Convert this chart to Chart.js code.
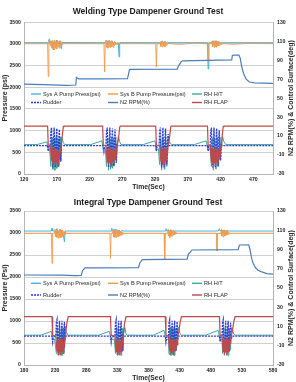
<!DOCTYPE html>
<html>
<head>
<meta charset="utf-8">
<script src="https://cdn.jsdelivr.net/npm/chart.js@4.4.0/dist/chart.umd.min.js"></script>
<style>
  body { margin: 0; background: #fff; }
  canvas { display: block; }
</style>
</head>
<body>
<canvas id="weld" width="296" height="191"></canvas>
<canvas id="integral" width="296" height="191"></canvas>
<script>
// legend labels (same order in both charts)
const seriesNames = ['Sys A Pump Press(psi)', 'Sys B Pump Pressure(psi)', 'RH H/T', 'Rudder', 'N2 RPM(%)', 'RH FLAP'];

// tick labels
const weldTimeTicks = [120, 170, 220, 270, 320, 370, 420, 470];
const integralTimeTicks = [180, 230, 280, 330, 380, 430, 480, 530, 580];
const angleTicks = [-30, -10, 10, 30, 50, 70, 90, 110, 130];

// ---- Welding type dampener: [time sec, value] ----
const weldSysA = [[120,3028],[157,3028],[158,3100],[159,3010],[161,3070],[163,2990],[165,2860],[166,3060],[168,2980],[170,3090],[172,2990],[174,3070],[176,2940],[177,2890],[178,3030],
  [244,3028],[246,3090],[248,2990],[250,3085],[252,3000],[254,3070],[256,2980],[258,3050],[261,3010],[264,3030],[265,2700],[266,3028],
  [329,3028],[331,3070],[333,2990],[335,3060],[337,3010],[339,3040],[341,3028],
  [400,3028],[401,2420],[402,3028],[407,3028],[409,3070],[411,2980],[413,3075],[415,2990],[417,3060],[419,3010],[421,3040],[423,3028],[500,3028]];

const weldSysB = [[120,3005],[156,3005],[157,2250],[158,3005],[159,3120],[160,2960],[161,3060],[162,2910],[163,3080],[164,2890],[165,3040],[166,2870],[167,3090],[168,2900],[169,3050],[170,2880],[171,3080],[172,2930],[173,3050],[174,2900],[175,3070],[176,2950],[177,3030],[178,2985],[179,3005],
  [242,3005],[243,2350],[244,3005],[245,3080],[246,2920],[247,3060],[248,2900],[249,3070],[250,2930],[251,3050],[252,2910],[253,3070],[254,2940],[255,3050],[256,2920],[257,3040],[258,2960],[259,3030],[260,2975],[261,3025],[262,2990],[263,3005],
  [321,3005],[322,2470],[323,3005],[327,3000],[328,3050],[329,2940],[330,3050],[331,2930],[332,3060],[333,2950],[334,3040],[335,2940],[336,3050],[337,2965],[338,3030],[339,2985],[340,3015],[341,3005],[360,2990],[380,3020],
  [400,3000],[401,2590],[402,3005],[406,3000],[407,3070],[408,2940],[409,3060],[410,2920],[411,3070],[412,2940],[413,3050],[414,2920],[415,3060],[416,2950],[417,3040],[418,2960],[419,3030],[420,2975],[421,3025],[422,2990],[423,3005],[440,2990],[460,3010],[500,3005]];

const weldHT = [[120,1],[140,1],[155,4],[157,-5],[159,-3],[161,-22],[162,5],[163,8],[164,-25],[165,-10],[166,6],[167,-26],[168,-8],[169,9],[170,-24],[171,-6],[172,7],[173,-22],[174,-4],[175,9],[176,-16],[177,2],[178,9],[180,3],[182,1],
  [222,1],[239,5],[241,-5],[244,-3],[246,-22],[247,6],[248,8],[249,-26],[250,-8],[251,7],[252,-25],[253,-6],[254,9],[255,-24],[256,-5],[257,8],[258,-21],[259,-2],[260,9],[261,-18],[262,0],[264,10],[266,4],[268,1],
  [302,1],[320,5],[322,-5],[325,-3],[327,-20],[328,6],[330,-26],[331,-7],[332,8],[334,-25],[335,-6],[336,9],[338,-22],[339,-3],[340,10],[342,4],[345,1],
  [380,1],[398,5],[401,-5],[404,-3],[406,-22],[407,6],[408,8],[409,-26],[410,-7],[411,7],[413,-25],[414,-5],[415,9],[417,-22],[418,-3],[419,9],[420,-15],[421,1],[423,10],[425,4],[428,1],[500,1]];

const weldRudder = [[120,0],[156,0],[157,-6],[158,-1],[160,0],[161,14],[162,19],[163,-8],[164,-23],[165,2],[166,19],[167,-6],[168,-23],[169,4],[170,18],[171,-10],[172,-22],[173,6],[174,17],[175,-8],[176,-17],[177,1],[178,0],
  [241,0],[242,-6],[243,-1],[245,0],[246,15],[247,19],[248,-8],[249,-23],[250,3],[251,19],[252,-6],[253,-23],[254,5],[255,18],[256,-9],[257,-22],[258,6],[259,17],[260,-7],[261,-18],[262,2],[263,0],
  [321,0],[322,-6],[323,-1],[326,0],[327,14],[328,19],[329,-8],[330,-23],[331,3],[332,19],[333,-7],[334,-23],[335,5],[336,18],[337,-9],[338,-20],[339,4],[340,12],[341,0],
  [400,0],[401,-6],[402,-1],[404,0],[405,15],[406,19],[407,-8],[408,-23],[409,3],[410,19],[411,-6],[412,-23],[413,5],[414,18],[415,-9],[416,-22],[417,6],[418,16],[419,-8],[420,-16],[421,1],[422,0],[500,0]];

const weldN2 = [[120,64.7],[150,64.3],[185,63.5],[199,63.8],[200,71.8],[202,70.8],[204,70.3],[240,70.3],[278,70.6],[281,80],[283,80.2],[354,80.6],[356,84],[360,88.5],[362,89.3],
  [437,90.2],[438,95],[440,95.3],[448,95.3],[450,92],[452,84],[455,76],[459,70],[464,67],[472,66],[500,65.6]];

const weldFlap = [[120,20.5],[156,20.5],[157,0.5],[160,0],[161,-7],[162,-16],[163,-3],[164,-20],[165,-6],[166,-17],[167,-2],[168,-21],[169,-5],[170,-18],[171,-3],[172,-20],[173,-6],[174,-15],[175,-2],[176,-8],[177,0],[178,8],[180,20],[181,20.5],
  [240,20.5],[241,0.5],[245,0],[246,-8],[247,-17],[248,-3],[249,-20],[250,-5],[251,-18],[252,-2],[253,-21],[254,-6],[255,-17],[256,-3],[257,-19],[258,-5],[259,-15],[260,-2],[261,-8],[262,0],[264,6],[266,19],[267,20.5],
  [321,20.5],[322,0.5],[327,0],[328,-7],[329,-17],[330,-3],[331,-20],[332,-5],[333,-18],[334,-2],[335,-21],[336,-6],[337,-16],[338,-3],[339,-9],[340,0],[342,8],[344,20],[345,20.5],
  [400,20.5],[401,0.5],[404,0],[405,-8],[406,-17],[407,-3],[408,-20],[409,-5],[410,-18],[411,-2],[412,-21],[413,-6],[414,-17],[415,-3],[416,-19],[417,-5],[418,-14],[419,-2],[420,-6],[421,0],[422,7],[424,20],[425,20.5],[500,20.5]];

// ---- Integral type dampener: [time sec, value] ----
const intSysA = [[180,3045],[224,3045],[225,3110],[226,3045],[231,3045],[233,3100],[235,3000],[237,3080],[239,2990],[241,3070],[243,2960],[245,2800],[246,3050],[248,3045],
  [320,3045],[321,3110],[322,3045],[325,3090],[327,3000],[329,3080],[331,2990],[333,3070],[335,3010],[337,3060],[339,3045],
  [407,3045],[408,3100],[409,3045],[412,3080],[414,3000],[416,3075],[418,3010],[420,3060],[422,3045],
  [492,3045],[494,3100],[495,3045],[498,3080],[500,3010],[502,3070],[504,3000],[506,3060],[508,3045],[580,3045]];

const intSysB = [[180,2995],[224,2995],[225,2310],[226,2995],[229,2995],[230,3080],[231,2910],[232,3060],[233,2900],[234,3070],[235,2880],[236,3050],[237,2900],[238,3080],[239,2890],[240,3050],[241,2910],[242,3070],[243,2930],[244,3040],[245,2950],[246,3025],[247,2975],[248,2995],
  [318,2995],[319,2425],[320,2995],[322,2995],[323,3070],[324,2910],[325,3060],[326,2900],[327,3080],[328,2900],[329,3050],[330,2920],[331,3070],[332,2910],[333,3050],[334,2940],[335,3040],[336,2950],[337,3030],[338,2965],[339,3015],[340,2995],
  [405,2995],[406,2410],[407,2995],[410,2995],[411,3070],[412,2930],[413,3060],[414,2900],[415,3070],[416,2920],[417,3050],[418,2930],[419,3060],[420,2950],[421,3040],[422,2955],[423,3025],[424,2975],[425,2995],
  [489,2995],[490,2590],[491,2995],[496,2995],[497,3070],[498,2930],[499,3060],[500,2910],[501,3070],[502,2930],[503,3050],[504,2940],[505,3060],[506,2955],[507,3035],[508,2965],[509,3015],[510,2995],[580,2995]];

const intHT = [[180,1],[207,1],[224,5],[226,-4],[229,-3],[232,-18],[233,6],[234,9],[235,-20],[236,-6],[237,7],[238,-19],[239,-5],[240,9],[241,-20],[242,-4],[243,8],[244,-17],[245,-1],[246,10],[248,5],[250,1],
  [300,1],[317,5],[320,-4],[325,-3],[327,-18],[328,6],[329,9],[330,-20],[331,-5],[332,8],[333,-19],[334,-4],[335,9],[336,-20],[337,-3],[338,8],[339,-15],[340,2],[342,9],[344,2],[346,1],
  [388,1],[405,6],[408,-4],[412,-3],[413,-19],[414,6],[415,9],[416,-20],[417,-5],[418,8],[419,-19],[420,-4],[421,9],[422,-20],[423,-3],[424,8],[425,-14],[426,2],[428,9],[431,2],[433,1],
  [472,1],[492,6],[495,-4],[498,-3],[499,-18],[500,6],[501,9],[502,-20],[503,-5],[504,8],[505,-19],[506,-4],[507,9],[508,-20],[509,-3],[510,8],[511,-14],[512,2],[514,9],[517,2],[519,1],[580,1]];

const intRudder = [[180,0],[225,0],[226,-6],[227,-1],[231,0],[232,14],[233,17],[234,-8],[235,-16],[236,3],[237,16],[238,-7],[239,-17],[240,4],[241,16],[242,-9],[243,-16],[244,6],[245,15],[246,-3],[247,0],
  [319,0],[320,-6],[321,-1],[326,0],[327,14],[328,17],[329,-8],[330,-16],[331,4],[332,16],[333,-7],[334,-17],[335,5],[336,16],[337,-8],[338,-16],[339,3],[340,0],
  [407,0],[408,-6],[409,-1],[412,0],[413,14],[414,17],[415,-8],[416,-16],[417,3],[418,16],[419,-7],[420,-17],[421,5],[422,16],[423,-9],[424,-16],[425,6],[426,15],[427,-4],[428,0],
  [494,0],[495,-6],[496,-1],[498,0],[499,14],[500,17],[501,-8],[502,-16],[503,3],[504,16],[505,-7],[506,-17],[507,5],[508,16],[509,-9],[510,-16],[511,6],[512,14],[513,-3],[514,0],[580,0]];

const intN2 = [[180,63.5],[240,63.3],[262,62.8],[272,63],[274,68],[278,71],[300,71],[364,71.2],[366,76],[370,79.5],[442,80],[444,85],[450,89.5],
  [524,89.8],[526,94.7],[541,94.9],[543,90],[546,80],[548,75.7],[552,71],[556,68.5],[561,67],[570,65],[580,64.5]];

const intFlap = [[180,20.2],[225,20.2],[226,1],[231,0],[232,-8],[233,-16],[234,-3],[235,-19],[236,-5],[237,-17],[238,-2],[239,-20],[240,-6],[241,-16],[242,-3],[243,-18],[244,-5],[245,-12],[246,-1],[247,4],[249,14],[251,20.2],
  [319,20.2],[320,1],[326,0],[327,-8],[328,-16],[329,-3],[330,-19],[331,-5],[332,-17],[333,-2],[334,-20],[335,-6],[336,-16],[337,-3],[338,-10],[339,0],[340,5],[342,15],[344,20.2],
  [407,20.2],[408,1],[412,0],[413,-8],[414,-16],[415,-3],[416,-19],[417,-5],[418,-17],[419,-2],[420,-20],[421,-6],[422,-16],[423,-3],[424,-15],[425,-4],[426,-9],[427,0],[429,6],[431,15],[433,20.2],
  [494,20.2],[495,1],[498,0],[499,-8],[500,-16],[501,-3],[502,-19],[503,-5],[504,-17],[505,-2],[506,-20],[507,-6],[508,-16],[509,-3],[510,-14],[511,-4],[512,-8],[513,0],[515,6],[517,15],[519,20.2],[580,20.2]];

Chart.defaults.font.family = '"Liberation Sans", Arial, sans-serif';
Chart.defaults.color = '#262626';

// legend drawn inside the plot, 3 columns x 2 rows like the excel one
const insideLegend = {
  id: 'insideLegend',
  afterDatasetsDraw(chart, args, opts) {
    const ctx = chart.ctx;
    ctx.save();
    ctx.font = '5.6px "Liberation Sans", Arial, sans-serif';
    ctx.textBaseline = 'middle';
    chart.data.datasets.forEach((ds, i) => {
      const x = opts.cols[i % 3];
      const y = opts.rows[Math.floor(i / 3)];
      ctx.strokeStyle = ds.borderColor;
      ctx.lineWidth = 1.4;
      ctx.setLineDash(ds.borderDash || []);
      ctx.beginPath();
      ctx.moveTo(x, y);
      ctx.lineTo(x + 10, y);
      ctx.stroke();
      ctx.setLineDash([]);
      ctx.fillStyle = '#262626';
      ctx.fillText(ds.label, x + 12, y + 0.3);
    });
    ctx.restore();
  }
};

// right axis title reads bottom-to-top in the original
const rightTitle = {
  id: 'rightTitle',
  afterDraw(chart, args, opts) {
    const a = chart.chartArea;
    const ctx = chart.ctx;
    ctx.save();
    ctx.translate(opts.x, (a.top + a.bottom) / 2);
    ctx.rotate(-Math.PI / 2);
    ctx.font = 'bold 7px "Liberation Sans", Arial, sans-serif';
    ctx.fillStyle = '#262626';
    ctx.textAlign = 'center';
    ctx.textBaseline = 'middle';
    ctx.fillText(opts.text, 0, 0);
    ctx.restore();
  }
};

function pts(arr) {
  return arr.map(p => ({ x: p[0], y: p[1] }));
}

function line(label, data, color, axis, order, dash, width) {
  return {
    label: label,
    data: pts(data),
    borderColor: color,
    backgroundColor: color,
    borderWidth: width || 1,
    borderDash: dash,
    pointRadius: 0,
    fill: false,
    tension: 0,
    yAxisID: axis,
    order: order
  };
}

function makeChart(id, o) {
  const tickFont = { size: 5.2, weight: 'bold' };
  return new Chart(document.getElementById(id), {
    type: 'line',
    data: {
      datasets: [
        line(seriesNames[0], o.sysA, '#45B3E3', 'y', 5),
        line(seriesNames[1], o.sysB, '#F29A48', 'y', 4, undefined, 0.9),
        line(seriesNames[2], o.ht, '#3FAA98', 'y2', 3),
        line(seriesNames[3], o.rudder, '#2F3CD8', 'y2', 2, [2, 1], 1.3),
        line(seriesNames[4], o.n2, '#4A7EBB', 'y2', 1, undefined, 1.2),
        line(seriesNames[5], o.flap, '#BC4A4C', 'y2', 0, undefined, 1.2)
      ]
    },
    options: {
      responsive: false,
      animation: false,
      devicePixelRatio: 1,
      layout: { padding: 0 },
      plugins: {
        legend: { display: false },
        tooltip: { enabled: false },
        title: {
          display: true,
          text: o.title,
          font: { size: 8.5, weight: 'bold' },
          color: '#1a1a1a',
          padding: o.titlePad
        },
        insideLegend: { cols: [31, 108, 192], rows: o.legendRows },
        rightTitle: { x: 291, text: 'N2 RPM(%) & Control Surface(deg)' }
      },
      scales: {
        x: {
          type: 'linear',
          min: o.xMin,
          max: o.xMax,
          afterBuildTicks: s => { s.ticks = o.xTicks.map(v => ({ value: v })); },
          afterFit: s => { s.height = 17; },
          ticks: { font: tickFont, padding: 2, maxRotation: 0, autoSkip: false, callback: v => String(v) },
          grid: { display: false, drawTicks: false },
          border: { display: true, color: '#b5b5b5', width: 1 },
          title: { display: true, text: 'Time(Sec)', font: { size: 6.8, weight: 'bold' }, padding: 0 }
        },
        y: {
          position: 'left',
          min: 0,
          max: 3500,
          afterFit: s => { s.width = 24; },
          ticks: { stepSize: 500, font: tickFont, padding: 3, callback: v => String(v) },
          grid: { color: '#c4c4c4', lineWidth: 0.8, drawTicks: false },
          border: { display: true, color: '#b5b5b5', width: 1 },
          title: { display: true, text: o.yTitle, font: { size: 7, weight: 'bold' }, padding: { top: 0.5, bottom: 0 } }
        },
        y2: {
          position: 'right',
          min: -30,
          max: 130,
          afterBuildTicks: s => { s.ticks = angleTicks.map(v => ({ value: v })); },
          afterFit: s => { s.width = 23; },
          ticks: { font: tickFont, padding: 4, callback: v => String(v) },
          grid: { display: false, drawTicks: false },
          border: { display: true, color: '#b5b5b5', width: 1 }
        }
      }
    },
    plugins: [insideLegend, rightTitle]
  });
}

makeChart('weld', {
  title: 'Welding Type Dampener Ground Test',
  titlePad: { top: 7, bottom: 5 },
  yTitle: 'Pressure (psi)',
  xMin: 120, xMax: 500, xTicks: weldTimeTicks,
  legendRows: [94, 102.5],
  sysA: weldSysA, sysB: weldSysB, ht: weldHT, rudder: weldRudder, n2: weldN2, flap: weldFlap
});

makeChart('integral', {
  title: 'Integral Type Dampener Ground Test',
  titlePad: { top: 6.5, bottom: 3.3 },
  yTitle: 'Pressure (Psi)',
  xMin: 180, xMax: 580, xTicks: integralTimeTicks,
  legendRows: [92.3, 104],
  sysA: intSysA, sysB: intSysB, ht: intHT, rudder: intRudder, n2: intN2, flap: intFlap
});
</script>
</body>
</html>
